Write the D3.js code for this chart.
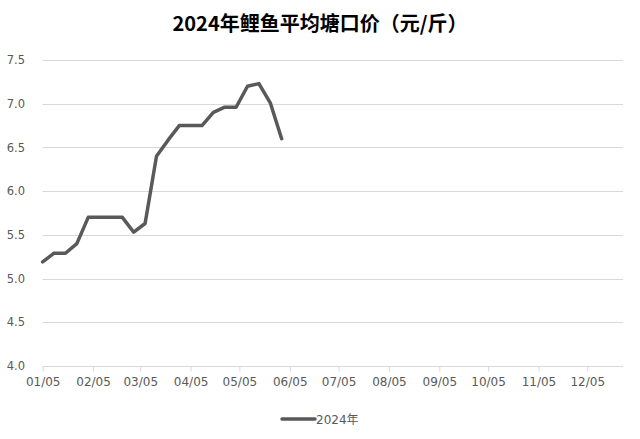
<!DOCTYPE html>
<html><head><meta charset="utf-8">
<script src="https://cdn.jsdelivr.net/npm/d3@7"></script>
<style>body{margin:0;background:#fff}svg{display:block}</style>
</head><body>
<svg id="chart" width="640" height="439"></svg>
<script>
const title = "2024年鲤鱼平均塘口价（元/斤）";
const seriesName = "2024年";
const dates = ["2024-01-05","2024-01-12","2024-01-19","2024-01-26","2024-02-02","2024-02-09","2024-02-16","2024-02-23","2024-03-01","2024-03-08","2024-03-15","2024-03-22","2024-03-29","2024-04-05","2024-04-12","2024-04-19","2024-04-26","2024-05-03","2024-05-10","2024-05-17","2024-05-24","2024-05-31"];
const values = [5.19,5.29,5.29,5.40,5.70,5.70,5.70,5.70,5.53,5.63,6.40,6.58,6.75,6.75,6.75,6.90,6.96,6.96,7.20,7.23,7.01,6.60];
const yTicks = [4.0,4.5,5.0,5.5,6.0,6.5,7.0,7.5];
const xTickDates = ["2024-01-05","2024-02-05","2024-03-05","2024-04-05","2024-05-05","2024-06-05","2024-07-05","2024-08-05","2024-09-05","2024-10-05","2024-11-05","2024-12-05"];
const xDomain = ["2024-01-05","2024-12-27"];

const parse = d3.timeParse("%Y-%m-%d");
const fmt = d3.timeFormat("%m/%d");
const svg = d3.select("#chart");
const mLeft = 42.7, mRight = 623, mTop = 60, mBottom = 366;

const x = d3.scaleTime().domain(xDomain.map(parse)).range([mLeft, mRight]);
const y = d3.scaleLinear().domain([4.0, 7.5]).range([mBottom, mTop]);

svg.append("text").attr("x", 320).attr("y", 31).attr("text-anchor", "middle")
  .attr("font-family", "'Noto Sans CJK SC', sans-serif").attr("font-weight", "bold")
  .attr("font-size", 20).attr("fill", "#000").text(title);

// gridlines
svg.append("g").selectAll("line").data(yTicks.slice(1)).join("line")
  .attr("x1", mLeft).attr("x2", mRight)
  .attr("y1", d => Math.round(y(d)) + 0.5).attr("y2", d => Math.round(y(d)) + 0.5)
  .attr("stroke", "#d9d9d9").attr("stroke-width", 1);

// y axis labels
const yAxis = d3.axisLeft(y).tickValues(yTicks).tickFormat(d3.format(".1f")).tickSize(0).tickPadding(0);
const gy = svg.append("g").attr("transform", `translate(25,0)`).call(yAxis);
gy.select(".domain").remove();
gy.selectAll("text").attr("font-family", "'DejaVu Sans', sans-serif").attr("font-size", 11.5).attr("fill", "#595959");

// x axis
const xAxis = d3.axisBottom(x).tickValues(xTickDates.map(parse)).tickFormat(fmt).tickSize(5).tickPadding(6);
const gx = svg.append("g").attr("transform", `translate(0,${mBottom + 0.5})`).call(xAxis);
gx.select(".domain").attr("stroke", "#d9d9d9").attr("d", `M${mLeft},0H${mRight}`);
gx.selectAll(".tick line").attr("stroke", "#d9d9d9");
gx.selectAll("text").attr("font-family", "'DejaVu Sans', sans-serif").attr("font-size", 12).attr("fill", "#595959");

// line
const line = d3.line().x((d, i) => x(parse(dates[i]))).y(d => y(d));
svg.append("path").datum(values).attr("d", line).attr("fill", "none")
  .attr("stroke", "#595959").attr("stroke-width", 3.5).attr("stroke-linejoin", "round").attr("stroke-linecap", "round");

// legend
const lg = svg.append("g");
lg.append("line").attr("x1", 282).attr("x2", 315).attr("y1", 419).attr("y2", 419)
  .attr("stroke", "#595959").attr("stroke-width", 3.5).attr("stroke-linecap", "round");
lg.append("text").attr("x", 316).attr("y", 423.5).attr("font-family", "'DejaVu Sans', 'Noto Sans CJK SC', sans-serif")
  .attr("font-size", 12).attr("fill", "#595959").text(seriesName);
</script>
</body></html>
